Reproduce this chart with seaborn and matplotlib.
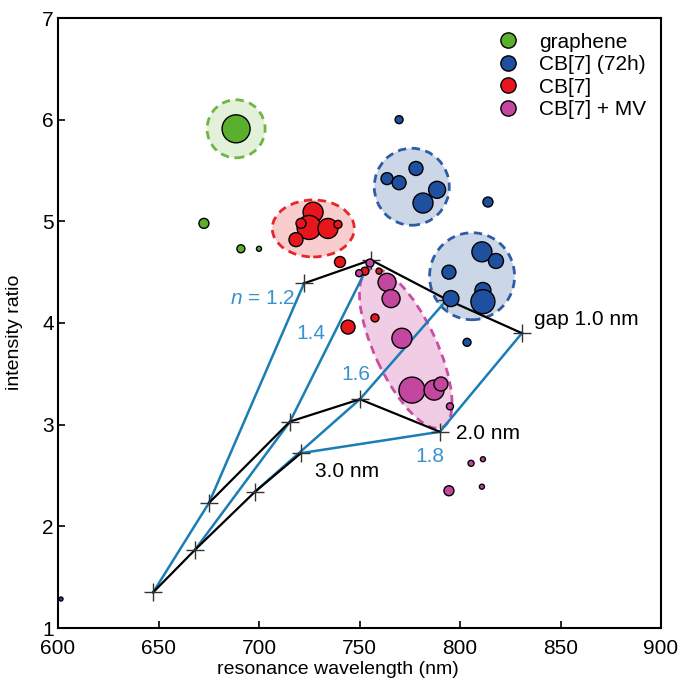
import matplotlib
matplotlib.use("Agg")
import matplotlib.pyplot as plt
from matplotlib.patches import Ellipse
from matplotlib.lines import Line2D
from matplotlib.transforms import ScaledTranslation
import numpy as np
import pandas as pd
import seaborn as sns

# ---- data ----
gaps = ["3.0", "2.0", "1.0"]
n_vals = [1.2, 1.4, 1.6, 1.8]
# rows = gap, columns = n
grid_wl = [[647.3, 668.2, 698.0, 720.9],
           [675.1, 715.4, 750.2, 790.0],
           [722.4, 755.7, 793.5, 830.8]]
grid_ratio = [[1.35, 1.77, 2.34, 2.72],
              [2.23, 3.03, 3.25, 2.93],
              [4.39, 4.62, 4.23, 3.90]]

graphene_wl = [688.6, 672.6, 691.0, 700.0]
graphene_ratio = [5.91, 4.98, 4.73, 4.73]
graphene_r = [14, 5, 4, 2.5]

cb7_72h_wl = [769.7, 778.1, 763.7, 769.7, 788.6, 781.6, 813.9, 810.9, 817.9,
              794.5, 811.4, 811.4, 795.5, 803.5, 601.5]
cb7_72h_ratio = [6.00, 5.52, 5.42, 5.38, 5.31, 5.18, 5.19, 4.70, 4.61,
                 4.50, 4.32, 4.21, 4.24, 3.81, 1.285]
cb7_72h_r = [4, 7, 6, 7, 8.5, 10, 5, 10, 7.5, 7, 8, 12, 8, 4, 2]

cb7_wl = [726.9, 724.9, 734.3, 739.3, 718.4, 720.9, 740.3, 744.3, 757.7, 752.7, 759.7]
cb7_ratio = [5.09, 4.94, 4.93, 4.97, 4.82, 4.98, 4.60, 3.96, 4.05, 4.51, 4.51]
cb7_r = [10, 12, 10, 4, 7, 5, 5.5, 7, 4, 4, 3]

mv_wl = [755.2, 749.8, 763.7, 765.7, 771.1, 776.1, 787.1, 790.5, 795.0,
         805.5, 811.4, 794.5, 810.9]
mv_ratio = [4.59, 4.49, 4.40, 4.24, 3.85, 3.34, 3.34, 3.40, 3.18,
            2.62, 2.66, 2.35, 2.39]
mv_r = [4, 3.5, 9, 9, 10, 13, 10, 7, 3.5, 3, 2.5, 5, 2.5]

groups = ["graphene", "CB[7] (72h)", "CB[7]", "CB[7] + MV"]
colors = ["#5aaf2f", "#1f4f9f", "#e6161c", "#c4479f"]

DPI = 100
plt.rcParams["font.family"] = ["Liberation Sans", "DejaVu Sans"]
plt.rcParams["mathtext.fontset"] = "custom"
plt.rcParams["mathtext.it"] = "Liberation Sans:italic"
plt.rcParams["mathtext.rm"] = "Liberation Sans"

fig = plt.figure(figsize=(6.81, 6.87), dpi=DPI)
ax = fig.add_axes([58 / 681, 1 - 628 / 687, 603 / 681, 610 / 687])
ax.set_xlim(600, 900)
ax.set_ylim(1, 7)

# ---- shaded dashed ellipses (sizes in pixels) ----
def blob(cx, cy, w, h, ang, fc, ec):
    tr = fig.dpi_scale_trans + ScaledTranslation(cx, cy, ax.transData)
    ax.add_patch(Ellipse((0, 0), w / DPI, h / DPI, angle=ang, transform=tr,
                         facecolor=fc, edgecolor="none", zorder=1))
    ax.add_patch(Ellipse((0, 0), w / DPI, h / DPI, angle=ang, transform=tr,
                         facecolor="none", edgecolor=ec, lw=2.0,
                         linestyle=(0, (3, 2)), zorder=1.5))

blob(688.6, 5.91, 58, 58, 0, "#e4f1da", "#6fb640")
blob(727.0, 4.93, 82, 57, 0, "#f9cdcd", "#e8252a")
blob(776.0, 5.34, 75, 77, 0, "#cbd6e7", "#2f5ca6")
blob(806.0, 4.46, 85, 87, 0, "#cbd6e7", "#2f5ca6")
blob(773.0, 3.75, 174, 62, -65, "#f1cde5", "#c94fa3")

# ---- model grid: blue = constant n, black = constant gap ----
rows = []
for gi, g in enumerate(gaps):
    for ni, n in enumerate(n_vals):
        rows.append({"gap": g, "n": n, "wl": grid_wl[gi][ni], "ratio": grid_ratio[gi][ni]})
grid = pd.DataFrame(rows)

for n in n_vals:
    sub = grid[grid["n"] == n]
    sns.lineplot(data=sub, x="wl", y="ratio", sort=False, estimator=None,
                 color="#1a7db5", lw=1.8, ax=ax, zorder=2)
for g in gaps:
    sub = grid[grid["gap"] == g]
    sns.lineplot(data=sub, x="wl", y="ratio", sort=False, estimator=None,
                 color="black", lw=1.6, ax=ax, zorder=2.2)
ax.plot(grid["wl"], grid["ratio"], ls="none", marker="+", ms=13, mew=1.0,
        color="#333333", zorder=2.4)

# ---- measured points ----
sets = [(graphene_wl, graphene_ratio, graphene_r),
        (cb7_72h_wl, cb7_72h_ratio, cb7_72h_r),
        (cb7_wl, cb7_ratio, cb7_r),
        (mv_wl, mv_ratio, mv_r)]
for (x, y, r), c in zip(sets, colors):
    s = (2 * np.array(r) * 72 / DPI) ** 2
    sns.scatterplot(x=x, y=y, s=s, color=c, edgecolor="black", linewidth=1.0,
                    ax=ax, zorder=3, legend=False)

# ---- labels on the grid ----
blue_txt = "#3a93cf"
ax.text(718, 4.24, "$n$ = 1.2", color=blue_txt, fontsize=15, ha="right", va="center")
ax.text(726, 3.90, "1.4", color=blue_txt, fontsize=15, ha="center", va="center")
ax.text(748, 3.49, "1.6", color=blue_txt, fontsize=15, ha="center", va="center")
ax.text(785, 2.69, "1.8", color=blue_txt, fontsize=15, ha="center", va="center")
ax.text(728, 2.54, "3.0 nm", color="black", fontsize=15, ha="left", va="center")
ax.text(798, 2.91, "2.0 nm", color="black", fontsize=15, ha="left", va="center")
ax.text(837, 4.03, "gap 1.0 nm", color="black", fontsize=15, ha="left", va="center")

# ---- legend ----
handles = [Line2D([], [], ls="none", marker="o", ms=11, mfc=c, mec="black", mew=1.0)
           for c in colors]
ax.legend(handles, groups, loc="upper right", frameon=False, fontsize=15,
          handletextpad=1.0, labelspacing=0.17, borderaxespad=0.3,
          handlelength=1.0, borderpad=0.4)

# ---- axes ----
ax.set_xticks([600, 650, 700, 750, 800, 850, 900])
ax.set_yticks([1, 2, 3, 4, 5, 6, 7])
ax.tick_params(direction="in", length=5, width=1.2, labelsize=15)
ax.tick_params(axis="x", pad=8)
ax.tick_params(axis="y", pad=3)
for sp in ax.spines.values():
    sp.set_linewidth(1.5)
ax.set_xlabel("resonance wavelength (nm)", fontsize=14)
ax.set_ylabel("intensity ratio", fontsize=14)
ax.xaxis.set_label_coords(0.464, -0.054)
ax.yaxis.set_label_coords(-0.058, 0.484)

fig.savefig("out.png", dpi=DPI)
